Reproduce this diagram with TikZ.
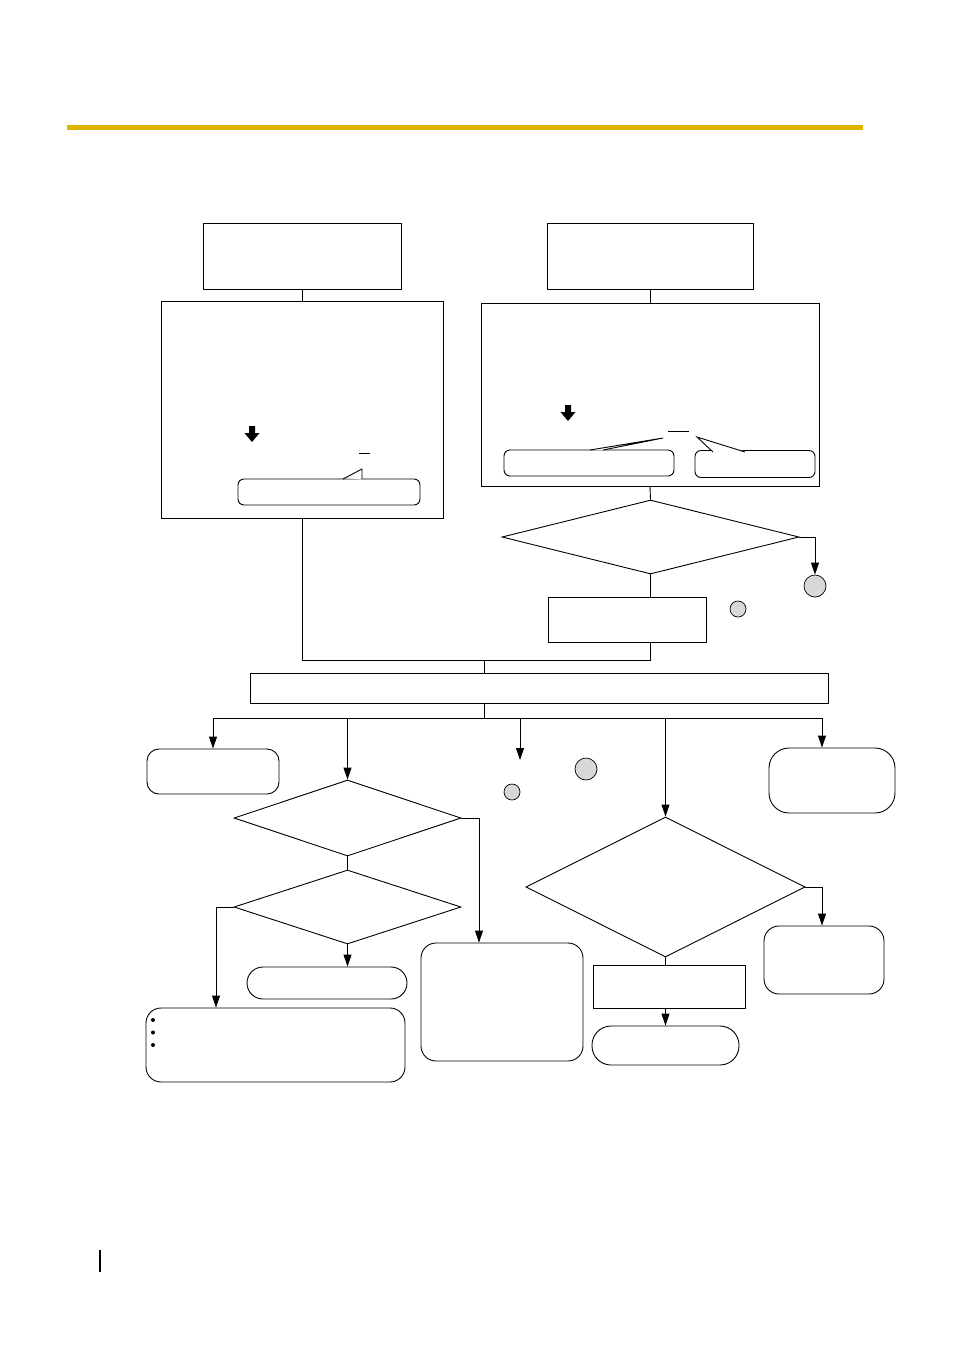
\documentclass[tikz,border=0pt]{standalone}
\usetikzlibrary{shapes.geometric,arrows.meta}
\definecolor{barcol}{RGB}{221,180,0}
\definecolor{dotgray}{RGB}{216,216,216}
\begin{document}
\begin{tikzpicture}[x=1pt,y=-1pt,
 box/.style={draw,line width=1pt,rectangle,inner sep=0pt},
 rbox/.style={draw,line width=0.9pt,rectangle,inner sep=0pt,rounded corners=#1},
 dia/.style={draw,line width=0.9pt,diamond,inner sep=0pt},
 conn/.style={line width=0.9pt},
 arr/.style={line width=0.9pt,-{Triangle[length=12pt,width=8pt]}},
 gdot/.style={circle,draw,line width=0.7pt,fill=dotgray,inner sep=0pt,minimum size=#1},
 blockarrow/.style={fill=black}
]
\useasboundingbox[fill=white] (0,0) rectangle (954,1350);

% header bar and margin mark
\fill[barcol] (67,125) rectangle (863,130);
\draw[line width=1.2pt] (100,1250) -- (100,1272);

% left top branch
\node[box,minimum width=198pt,minimum height=66pt] (A) at (302,256) {};
\node[box,minimum width=282pt,minimum height=217pt] (B) at (302,409.5) {};
\node[rbox=6pt,minimum width=182pt,minimum height=26pt] (Bc) at (329,492) {};
\fill[white] (343.5,478) -- (362,469) -- (361.6,479.5) -- cycle;
\draw[line width=0.9pt] (343,479) -- (362,469) -- (362,479);
\fill[blockarrow] (249,426) -- (255,426) -- (255,433) -- (259.5,433) -- (252,442) -- (244.5,433) -- (249,433) -- cycle;
\draw[line width=0.9pt] (359,453) -- (370,453);

% right top branch
\node[box,minimum width=206pt,minimum height=66pt] (C) at (650,256) {};
\node[box,minimum width=338pt,minimum height=183pt] (D) at (650,394.5) {};
\node[rbox=6pt,minimum width=170pt,minimum height=26pt] (Dl) at (589,463) {};
\node[rbox=6pt,minimum width=120pt,minimum height=27pt] (Dr) at (755,464) {};
\fill[white] (590,450) -- (663,438) -- (603,450) -- cycle;
\draw[line width=0.9pt] (590,450) -- (663,438) -- (603,450);
\fill[white] (713,451.5) -- (697,437) -- (745,451.5) -- cycle;
\draw[line width=0.9pt] (713,452) -- (697,437) -- (745,452);
\fill[blockarrow] (565,405) -- (571,405) -- (571,412) -- (575.5,412) -- (568,421) -- (560.5,412) -- (565,412) -- cycle;
\draw[line width=0.9pt] (668,431) -- (689,431);

\node[dia,minimum width=297pt,minimum height=74pt] (E) at (650.5,537) {};
\node[gdot=22pt] (c1) at (815,586) {};
\node[gdot=16pt] (c2) at (738,609) {};
\node[box,minimum width=158pt,minimum height=45pt] (F) at (627,619.5) {};

% merge
\node[box,minimum width=578pt,minimum height=30pt] (G) at (539,688) {};
\coordinate (j1) at (484,660);
\coordinate (j2) at (484,718);

% lower row
\node[rbox=12pt,minimum width=132pt,minimum height=45pt] (H) at (213,771.5) {};
\node[dia,minimum width=227pt,minimum height=76pt] (I) at (347.5,818) {};
\node[dia,minimum width=227pt,minimum height=74pt] (J) at (347.5,907) {};
\node[rbox=16pt,minimum width=160pt,minimum height=32pt] (K) at (327,983) {};
\node[rbox=15pt,minimum width=259pt,minimum height=74pt] (L) at (275.5,1045) {};
\fill (153,1020) circle (2pt);
\fill (153,1032.5) circle (2pt);
\fill (153,1045) circle (2pt);
\node[rbox=15pt,minimum width=162pt,minimum height=118pt] (M) at (502,1002) {};
\node[gdot=22pt] (c3) at (586,769) {};
\node[gdot=16pt] (c4) at (512,792) {};
\coordinate (free) at (520,760);
\node[dia,minimum width=279pt,minimum height=140pt] (N) at (665.5,887) {};
\node[rbox=15pt,minimum width=120pt,minimum height=68pt] (O) at (824,960) {};
\node[box,minimum width=152pt,minimum height=43pt] (P) at (669,986.5) {};
\node[rbox=19pt,minimum width=147pt,minimum height=39pt] (Q) at (665.5,1045.5) {};
\node[rbox=20pt,minimum width=126pt,minimum height=65pt] (R) at (832,780.5) {};

% connectors
\draw[conn] (A.south) -- (B.north);
\draw[conn] (C.south) -- (D.north);
\draw[conn] (D.south) -- (E.north);
\draw[arr] (E.east) -| (c1.north);
\draw[conn] (E.south) -- (E.south |- F.north);
\draw[conn] (B.south) |- (j1);
\draw[conn] (E.south |- F.south) |- (j1);
\draw[conn] (j1) -- (j1 |- G.north);
\draw[conn] (j2 |- G.south) -- (j2);
\draw[arr] (j2) -| (H.north);
\draw[arr] (j2) -| (I.north);
\draw[arr] (j2) -| (free);
\draw[arr] (j2) -| (N.north);
\draw[arr] (j2) -| ([xshift=-10pt]R.north);
\draw[arr] (I.east) -| ([xshift=-23pt]M.north);
\draw[conn] (I.south) -- (J.north);
\draw[arr] (J.west) -| ([xshift=-59.5pt]L.north);
\draw[arr] (J.south) -- (K.north -| J.south);
\draw[arr] (N.east) -| (O.north -| 822,0);
\draw[conn] (N.south) -- (N.south |- P.north);
\draw[arr] (N.south |- P.south) -- (N.south |- Q.north);
\end{tikzpicture}
\end{document}
